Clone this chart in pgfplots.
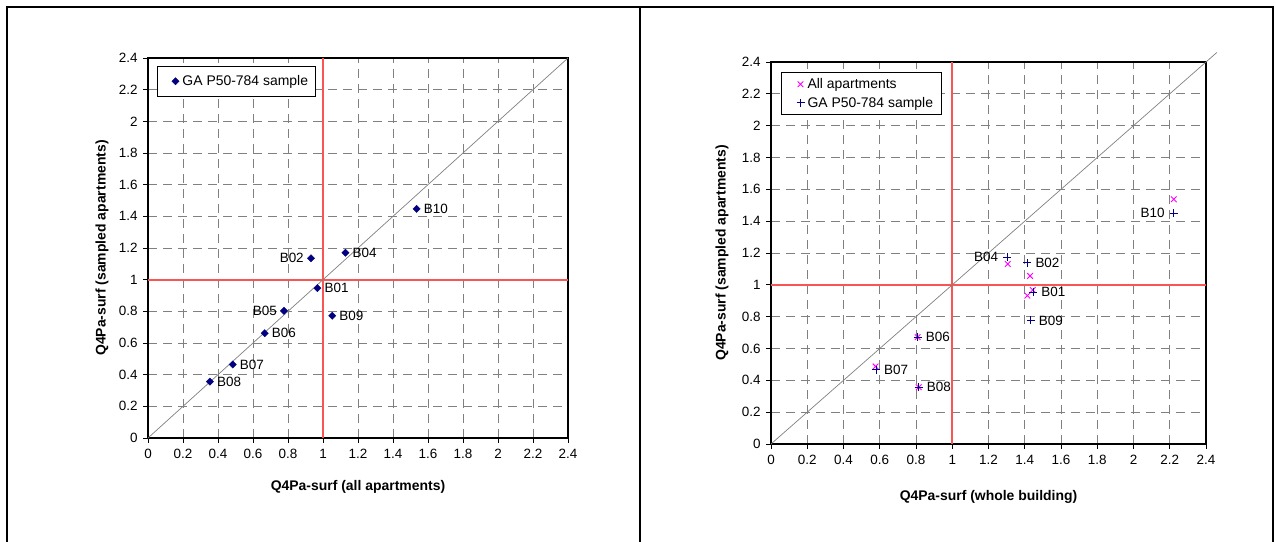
\documentclass[border=0pt]{standalone}
\usepackage{fontspec}
\setmainfont{Liberation Sans}
\usepackage{pgfplots}
\usepackage{pgfplotstable}
\pgfplotsset{compat=1.18}
\definecolor{navy}{RGB}{0,0,128}
\definecolor{magen}{RGB}{255,0,255}
\definecolor{redln}{RGB}{250,85,85}
\definecolor{gridgray}{RGB}{128,128,128}

% left chart: labels to the right of the point
\pgfplotstableread{
x y label
1.535 1.447 B10
1.128 1.170 B04
0.968 0.947 B01
1.053 0.772 B09
0.667 0.662 B06
0.484 0.464 B07
0.354 0.356 B08
}\leftW
% left chart: labels to the left of the point
\pgfplotstableread{
x y label
0.931 1.135 B02
0.777 0.803 B05
}\leftE

% right chart, GA P50-784 sample
\pgfplotstableread{
x y label
1.414 1.139 B02
1.447 0.953 B01
1.433 0.776 B09
0.809 0.671 B06
0.579 0.466 B07
0.815 0.357 B08
}\rightW
\pgfplotstableread{
x y label
2.222 1.449 B10
1.304 1.173 B04
}\rightE

% right chart, all apartments
\pgfplotstableread{
x y
2.222 1.537
1.306 1.131
1.429 1.056
1.444 0.968
1.414 0.932
0.809 0.671
0.577 0.487
0.815 0.357
}\rightall

\pgfplotsset{
  myaxis/.style={
    scale only axis,
    xmin=0, xmax=2.4, ymin=0, ymax=2.4,
    xtick={0,0.2,0.4,0.6,0.8,1,1.2,1.4,1.6,1.8,2,2.2,2.4},
    ytick={0,0.2,0.4,0.6,0.8,1,1.2,1.4,1.6,1.8,2,2.2,2.4},
    /pgf/number format/assume math mode=true,
    tick label style={font=\fontsize{13.5}{15}\selectfont, black},
    xticklabel style={yshift=-3bp},
    yticklabel style={xshift=-2bp},
    grid=major,
    major grid style={gridgray, dash pattern=on 9bp off 6bp, line width=0.8bp},
    axis line style={black, line width=1.5bp},
    tick style={black, line width=0.8bp},
    tick align=outside,
    major tick length=5bp,
    tick pos=left,
    label style={font=\bfseries\fontsize{14}{16}\selectfont},
    legend cell align=left,
    clip=false,
  },
  myleg/.style={
    legend image code/.code={\path[draw=none, fill=none] (-13bp,-5bp) rectangle (5bp,5bp); \draw[##1] plot coordinates {(0bp,0bp)};},
  },
  lblW/.style={
    draw=none, mark=none, forget plot,
    nodes near coords, point meta=explicit symbolic,
    every node near coord/.append style={anchor=west, font=\fontsize{13.5}{15}\selectfont, text=black, inner sep=1bp, xshift=#1},
  },
  lblE/.style={
    draw=none, mark=none, forget plot,
    nodes near coords, point meta=explicit symbolic,
    every node near coord/.append style={anchor=east, font=\fontsize{13.5}{15}\selectfont, text=black, inner sep=1bp, xshift=-#1},
  },
}

\begin{document}
\begin{tikzpicture}[x=1bp,y=1bp]
\path[use as bounding box] (0,0) rectangle (1276,542);
\draw[line width=2.2bp] (7,0) -- (7,535) -- (1273,535) -- (1273,0);
\draw[line width=2.2bp] (640,535) -- (640,0);

\begin{axis}[myaxis,
  at={(148bp,104bp)}, anchor=south west,
  width=420bp, height=380bp,
  xlabel={Q4Pa-surf (all apartments)},
  ylabel={Q4Pa-surf (sampled apartments)},
  xlabel style={at={(axis description cs:0.5,0)}, anchor=center, yshift=-49bp},
  ylabel style={at={(axis description cs:-0.1095,0.5)}, anchor=center},
  legend style={at={(axis description cs:0,1)}, anchor=north west, xshift=9bp, yshift=-8bp,
     draw=black, line width=1bp, font=\fontsize{14}{16}\selectfont, inner xsep=5bp, inner ysep=7bp},
]
\addplot[redln, line width=1.8bp, forget plot] coordinates {(1,0) (1,2.4)};
\addplot[redln, line width=1.8bp, forget plot] coordinates {(0,1) (2.4,1)};
\addplot[gray, line width=0.7bp, forget plot] coordinates {(0,0) (2.4,2.4)};
\addplot[only marks, mark=square*, mark size=2.6bp, mark options={rotate=45, fill=navy, draw=navy, line width=0.3bp}, myleg]
  table[x=x, y=y] {\leftW};
\addlegendentry{GA P50-784 sample}
\addplot[only marks, forget plot, mark=square*, mark size=2.6bp, mark options={rotate=45, fill=navy, draw=navy, line width=0.3bp}]
  table[x=x, y=y] {\leftE};
\addplot[lblW=6bp] table[x=x, y=y, meta=label] {\leftW};
\addplot[lblE=6bp] table[x=x, y=y, meta=label] {\leftE};
\end{axis}

\begin{axis}[myaxis,
  at={(771bp,98bp)}, anchor=south west,
  width=435bp, height=382bp,
  xlabel={Q4Pa-surf (whole building)},
  ylabel={Q4Pa-surf (sampled apartments)},
  xlabel style={at={(axis description cs:0.5,0)}, anchor=center, yshift=-53bp},
  ylabel style={at={(axis description cs:-0.1126,0.5)}, anchor=center},
  legend style={at={(axis description cs:0,1)}, anchor=north west, xshift=10bp, yshift=-10bp,
     draw=black, line width=1bp, font=\fontsize{14}{16}\selectfont, inner xsep=6bp, inner ysep=4bp,
     row sep=3bp},
]
\addplot[redln, line width=1.8bp, forget plot] coordinates {(1,0) (1,2.4)};
\addplot[redln, line width=1.8bp, forget plot] coordinates {(0,1) (2.4,1)};
\addplot[gray, line width=0.7bp, forget plot] coordinates {(0,0) (2.46,2.46)};
\addplot[only marks, mark=x, mark size=4bp, mark options={draw=magen, line width=0.9bp}, myleg]
  table[x=x, y=y] {\rightall};
\addlegendentry{All apartments}
\addplot[only marks, mark=+, mark size=4bp, mark options={draw=navy, line width=0.9bp}, myleg]
  table[x=x, y=y] {\rightW};
\addlegendentry{GA P50-784 sample}
\addplot[only marks, forget plot, mark=+, mark size=4bp, mark options={draw=navy, line width=0.9bp}]
  table[x=x, y=y] {\rightE};
\addplot[lblW=7bp] table[x=x, y=y, meta=label] {\rightW};
\addplot[lblE=8bp] table[x=x, y=y, meta=label] {\rightE};
\end{axis}
\end{tikzpicture}
\end{document}
